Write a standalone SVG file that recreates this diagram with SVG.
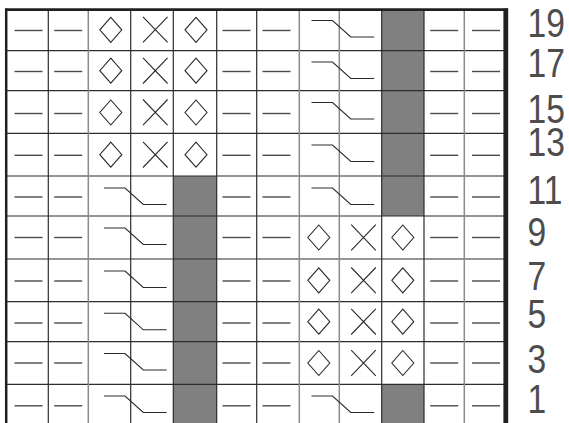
<svg xmlns="http://www.w3.org/2000/svg" width="569" height="423" viewBox="0 0 569 423">
<style>
.bg{fill:#fff}
.fill{fill:#818081}
.gd{stroke:#2e2c2d;stroke-width:1.2;fill:none}
.gl{stroke:#8a8a8a;stroke-width:1.5;fill:none}
.sym{stroke:#2a2a2a;stroke-width:1.1;fill:none}
.dash{stroke:#4a4a4a;stroke-width:1.4;fill:none}
.bd{stroke:#231f20;fill:none}
.lbl{font-family:"Liberation Sans",Arial,sans-serif;font-size:41px;fill:#4d4d4d}
</style>
<defs>
<path id="dash" class="dash" d="M-14,0 H14"/>
<path id="dia" class="sym" d="M0,-12.5 L11,0 L0,12.5 L-11,0 Z"/>
<path id="crs" class="sym" d="M-12.3,-12.8 L12.3,12.8 M-12.3,12.8 L12.3,-12.8"/>
<path id="cab" class="sym" d="M0,0 H21 L39.3,16.5 H62.7"/>
</defs>
<rect class="bg" x="0" y="0" width="569" height="423"/>
<g id="shading">
<rect class="fill" x="173.3" y="176" width="43.4" height="250"/>
<rect class="fill" x="381.7" y="9.5" width="42.3" height="206.5"/>
<rect class="fill" x="381.7" y="384.3" width="42.3" height="42"/>
</g>
<g id="grid">
<path class="gd" d="M7,50.7H505 M7,90.7H505 M7,133.3H505 M7,176H505 M7,216H505 M7,259H505 M7,301.7H505 M7,341.7H505 M7,384.3H505"/>
<path class="gd" d="M48.3,9.5V423 M130.7,9.5V423 M173.3,9.5V423 M216.7,9.5V423 M256.7,9.5V423 M381.7,9.5V423 M424,9.5V423"/>
<path class="gl" d="M88.3,9.5V423 M299.3,9.5V423 M339.3,9.5V423 M464.3,9.5V423"/>
</g>
<g id="dashes">
<use href="#dash" x="28.5" y="30.5"/><use href="#dash" x="68.2" y="30.5"/><use href="#dash" x="236.5" y="30.5"/><use href="#dash" x="276.5" y="30.5"/><use href="#dash" x="444.2" y="30.5"/><use href="#dash" x="486" y="30.5"/>
<use href="#dash" x="28.5" y="71.5"/><use href="#dash" x="68.2" y="71.5"/><use href="#dash" x="236.5" y="71.5"/><use href="#dash" x="276.5" y="71.5"/><use href="#dash" x="444.2" y="71.5"/><use href="#dash" x="486" y="71.5"/>
<use href="#dash" x="28.5" y="113.5"/><use href="#dash" x="68.2" y="113.5"/><use href="#dash" x="236.5" y="113.5"/><use href="#dash" x="276.5" y="113.5"/><use href="#dash" x="444.2" y="113.5"/><use href="#dash" x="486" y="113.5"/>
<use href="#dash" x="28.5" y="155.3"/><use href="#dash" x="68.2" y="155.3"/><use href="#dash" x="236.5" y="155.3"/><use href="#dash" x="276.5" y="155.3"/><use href="#dash" x="444.2" y="155.3"/><use href="#dash" x="486" y="155.3"/>
<use href="#dash" x="28.5" y="197"/><use href="#dash" x="68.2" y="197"/><use href="#dash" x="236.5" y="197"/><use href="#dash" x="276.5" y="197"/><use href="#dash" x="444.2" y="197"/><use href="#dash" x="486" y="197"/>
<use href="#dash" x="28.5" y="237.5"/><use href="#dash" x="68.2" y="237.5"/><use href="#dash" x="236.5" y="237.5"/><use href="#dash" x="276.5" y="237.5"/><use href="#dash" x="444.2" y="237.5"/><use href="#dash" x="486" y="237.5"/>
<use href="#dash" x="28.5" y="281"/><use href="#dash" x="68.2" y="281"/><use href="#dash" x="236.5" y="281"/><use href="#dash" x="276.5" y="281"/><use href="#dash" x="444.2" y="281"/><use href="#dash" x="486" y="281"/>
<use href="#dash" x="28.5" y="323"/><use href="#dash" x="68.2" y="323"/><use href="#dash" x="236.5" y="323"/><use href="#dash" x="276.5" y="323"/><use href="#dash" x="444.2" y="323"/><use href="#dash" x="486" y="323"/>
<use href="#dash" x="28.5" y="363"/><use href="#dash" x="68.2" y="363"/><use href="#dash" x="236.5" y="363"/><use href="#dash" x="276.5" y="363"/><use href="#dash" x="444.2" y="363"/><use href="#dash" x="486" y="363"/>
<use href="#dash" x="28.5" y="405.8"/><use href="#dash" x="68.2" y="405.8"/><use href="#dash" x="236.5" y="405.8"/><use href="#dash" x="276.5" y="405.8"/><use href="#dash" x="444.2" y="405.8"/><use href="#dash" x="486" y="405.8"/>
</g>
<g id="diamonds-crosses">
<use href="#dia" x="110.8" y="29.8"/><use href="#crs" x="155.3" y="29.6"/><use href="#dia" x="196" y="29.8"/>
<use href="#dia" x="110.8" y="70.7"/><use href="#crs" x="155.3" y="70.7"/><use href="#dia" x="196" y="70.7"/>
<use href="#dia" x="110.8" y="112.5"/><use href="#crs" x="155.3" y="112.3"/><use href="#dia" x="196" y="112.5"/>
<use href="#dia" x="110.8" y="154.7"/><use href="#crs" x="155.3" y="154.7"/><use href="#dia" x="196" y="154.7"/>
<use href="#dia" x="318.8" y="237.5"/><use href="#crs" x="363.5" y="237.5"/><use href="#dia" x="402.8" y="237.5"/>
<use href="#dia" x="318.8" y="280.3"/><use href="#crs" x="363.5" y="280.3"/><use href="#dia" x="402.8" y="280.3"/>
<use href="#dia" x="318.8" y="321.7"/><use href="#crs" x="363.5" y="321.7"/><use href="#dia" x="402.8" y="321.7"/>
<use href="#dia" x="318.8" y="363"/><use href="#crs" x="363.5" y="363"/><use href="#dia" x="402.8" y="363"/>
</g>
<g id="cables">
<use href="#cab" x="311.5" y="20.5"/>
<use href="#cab" x="311.5" y="62"/>
<use href="#cab" x="311.5" y="102.5"/>
<use href="#cab" x="311.5" y="145"/>
<use href="#cab" x="311.5" y="188"/>
<use href="#cab" x="311.5" y="396"/>
<use href="#cab" x="104" y="188"/>
<use href="#cab" x="104" y="228"/>
<use href="#cab" x="104" y="271"/>
<use href="#cab" x="104" y="313.3"/>
<use href="#cab" x="104" y="353.5"/>
<use href="#cab" x="104" y="396"/>
</g>
<g id="border">
<path class="bd" stroke-width="2.7" d="M5,9.7H508"/>
<path class="bd" stroke-width="2.5" d="M6.2,8.4V423"/>
<path class="bd" stroke-width="4.8" d="M505.8,8.4V423"/>
</g>
<g id="row-labels" class="lbl" transform="scale(0.82,1)">
<text x="643.3" y="37.5">19</text>
<text x="643.3" y="77.3">17</text>
<text x="643.3" y="123.5">15</text>
<text x="643.3" y="156.5">13</text>
<text x="643.3" y="204">11</text>
<text x="643.3" y="246.3">9</text>
<text x="643.3" y="290">7</text>
<text x="643.3" y="328">5</text>
<text x="643.3" y="372.8">3</text>
<text x="643.3" y="413.3">1</text>
</g>
</svg>
